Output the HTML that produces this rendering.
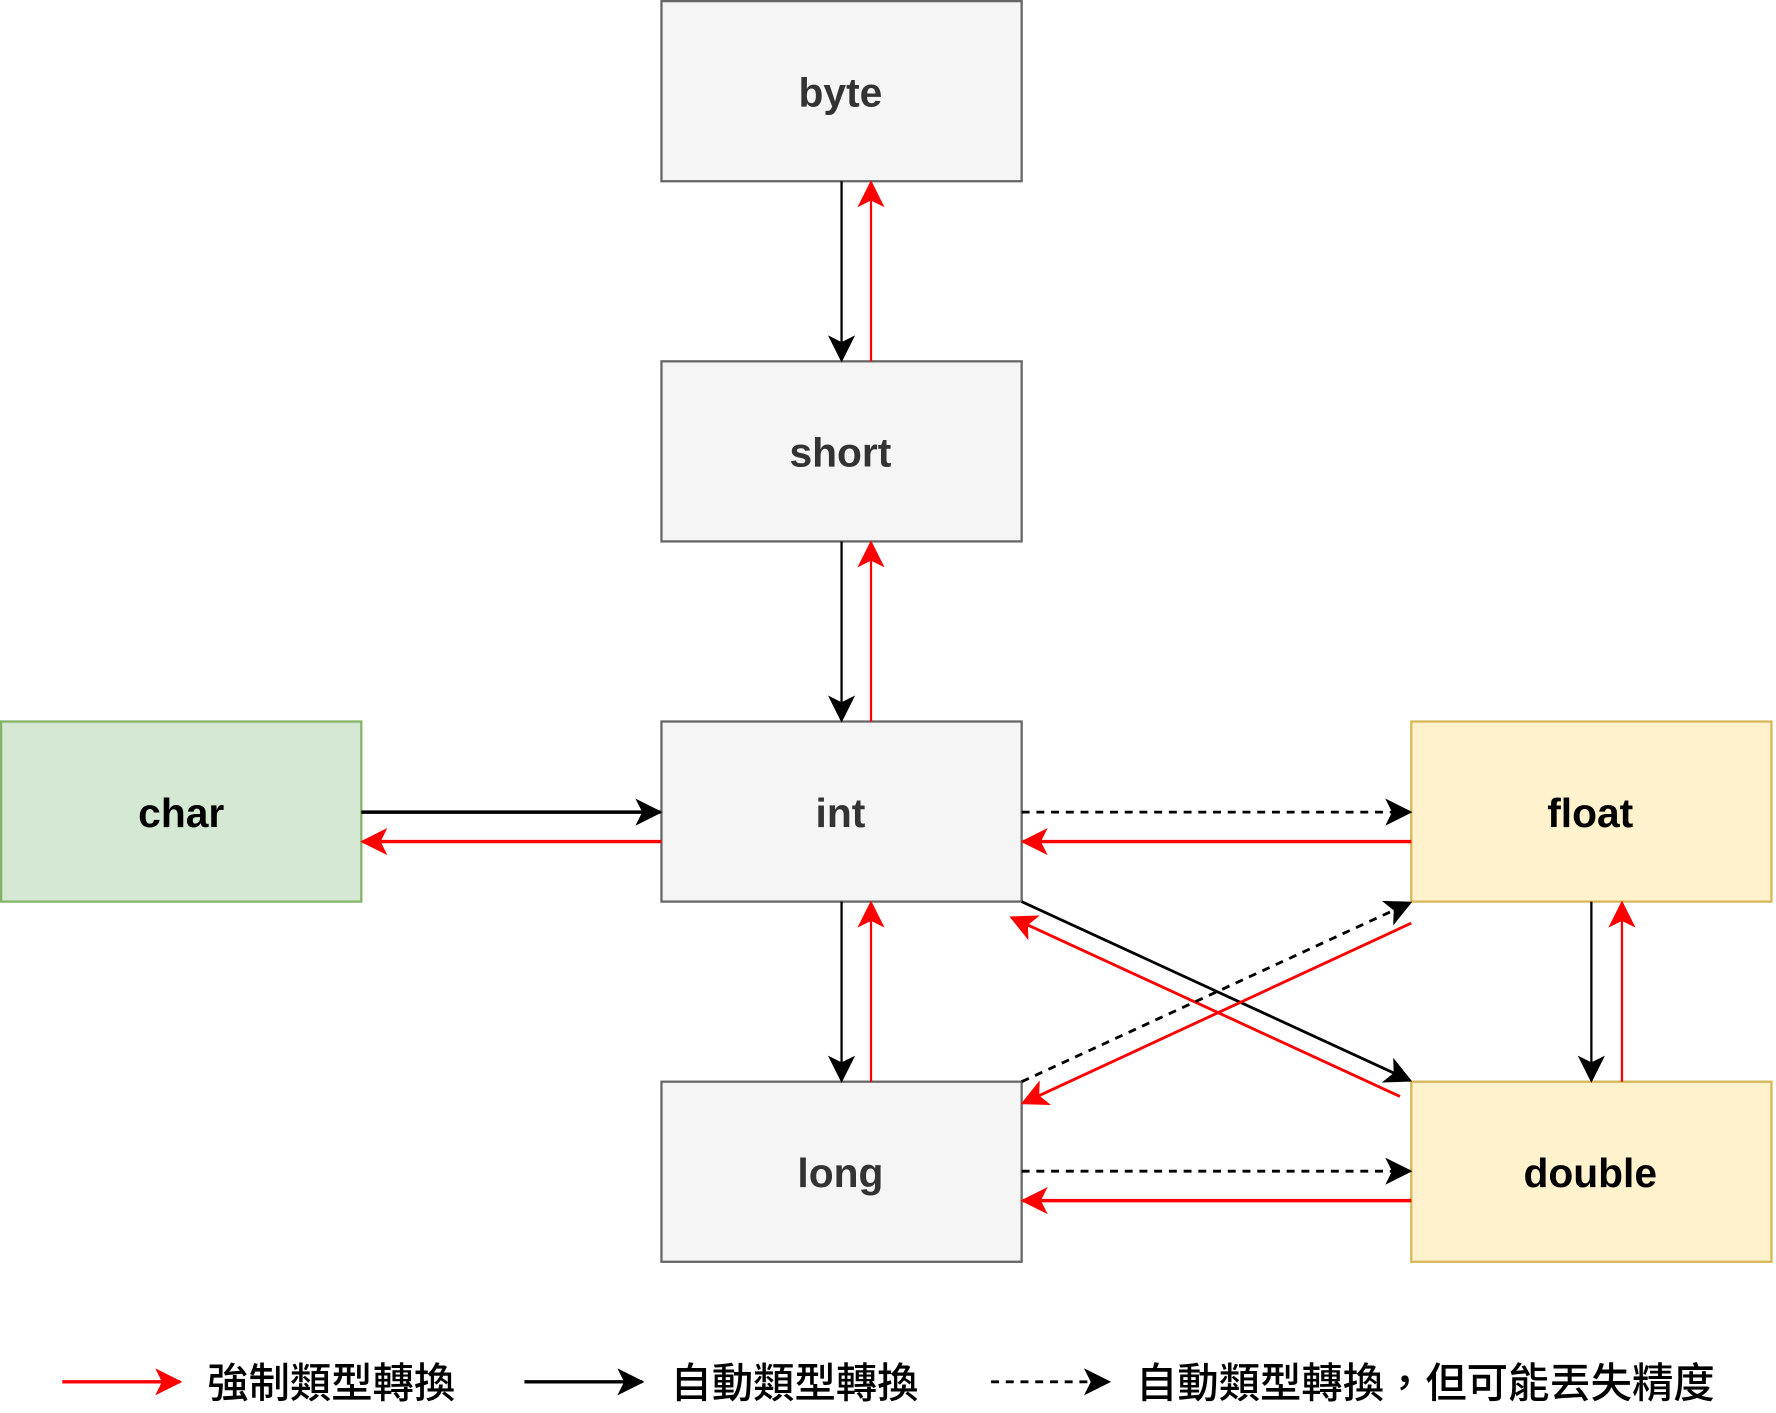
<!DOCTYPE html>
<html><head><meta charset="utf-8"><style>
html,body{margin:0;padding:0;background:#fff;}
svg{display:block;}
</style></head><body>
<svg width="1776" height="1413" viewBox="0 0 1568 1247.5" xmlns="http://www.w3.org/2000/svg">
<defs>
<marker id="abL" markerWidth="24" markerHeight="24" refX="22" refY="12" orient="auto" markerUnits="userSpaceOnUse" viewBox="0 0 24 24"><path d="M0,0 L24,12 L0,24 L6,12 Z" fill="#000"/></marker>
<marker id="arL" markerWidth="24" markerHeight="24" refX="22" refY="12" orient="auto" markerUnits="userSpaceOnUse" viewBox="0 0 24 24"><path d="M0,0 L24,12 L0,24 L6,12 Z" fill="#f00"/></marker>
</defs>
<g stroke-width="2">
<rect x="584" y="1" width="318" height="159" fill="#f5f5f5" stroke="#666"/>
<rect x="584" y="319" width="318" height="159" fill="#f5f5f5" stroke="#666"/>
<rect x="584" y="637" width="318" height="159" fill="#f5f5f5" stroke="#666"/>
<rect x="584" y="955" width="318" height="159" fill="#f5f5f5" stroke="#666"/>
<rect x="1" y="637" width="318" height="159" fill="#d5e8d4" stroke="#82b366"/>
<rect x="1246" y="637" width="318" height="159" fill="#fff2cc" stroke="#d6b656"/>
<rect x="1246" y="955" width="318" height="159" fill="#fff2cc" stroke="#d6b656"/>
</g>
<g font-family="Liberation Sans, sans-serif" font-weight="bold" font-size="36" text-anchor="middle">
<text x="742" y="94" fill="#333">byte</text>
<text x="742" y="412" fill="#333">short</text>
<text x="742" y="730" fill="#333">int</text>
<text x="742" y="1048" fill="#333">long</text>
<text x="160" y="730" fill="#000">char</text>
<text x="1404" y="730" fill="#000">float</text>
<text x="1404" y="1048" fill="#000">double</text>
</g>
<g fill="none" stroke-width="2">
<line x1="743" y1="160" x2="743" y2="318" stroke="#000" marker-end="url(#abL)"/>
<line x1="769" y1="319" x2="769" y2="161" stroke="#f00" marker-end="url(#arL)"/>
<line x1="743" y1="478" x2="743" y2="636" stroke="#000" marker-end="url(#abL)"/>
<line x1="769" y1="637" x2="769" y2="479" stroke="#f00" marker-end="url(#arL)"/>
<line x1="743" y1="796" x2="743" y2="954" stroke="#000" marker-end="url(#abL)"/>
<line x1="769" y1="955" x2="769" y2="797" stroke="#f00" marker-end="url(#arL)"/>
<line x1="319" y1="717" x2="583" y2="717" stroke="#000" stroke-width="3" marker-end="url(#abL)"/>
<line x1="584" y1="743" x2="320" y2="743" stroke="#f00" stroke-width="3" marker-end="url(#arL)"/>
<line x1="902" y1="717" x2="1245" y2="717" stroke="#000" stroke-width="2.5" stroke-dasharray="7,6" marker-end="url(#abL)"/>
<line x1="1246" y1="743" x2="903" y2="743" stroke="#f00" stroke-width="3" marker-end="url(#arL)"/>
<line x1="902" y1="1034" x2="1245" y2="1034" stroke="#000" stroke-width="2.5" stroke-dasharray="7,6" marker-end="url(#abL)"/>
<line x1="1246" y1="1060" x2="903" y2="1060" stroke="#f00" stroke-width="3" marker-end="url(#arL)"/>
<line x1="1405" y1="796" x2="1405" y2="954" stroke="#000" marker-end="url(#abL)"/>
<line x1="1432" y1="955" x2="1432" y2="797" stroke="#f00" marker-end="url(#arL)"/>
<line x1="902" y1="796" x2="1245" y2="954" stroke="#000" stroke-width="2.5" marker-end="url(#abL)"/>
<line x1="1236" y1="968" x2="893" y2="810" stroke="#f00" stroke-width="2.5" marker-end="url(#arL)"/>
<line x1="902" y1="955" x2="1245" y2="797" stroke="#000" stroke-width="2.5" stroke-dasharray="7,6" marker-end="url(#abL)"/>
<line x1="1246" y1="815" x2="903" y2="974" stroke="#f00" stroke-width="2.5" marker-end="url(#arL)"/>
<line x1="55" y1="1220" x2="159" y2="1220" stroke="#f00" stroke-width="3" marker-end="url(#arL)"/>
<line x1="463" y1="1220" x2="567" y2="1220" stroke="#000" stroke-width="3" marker-end="url(#abL)"/>
<line x1="875" y1="1220" x2="979" y2="1220" stroke="#000" stroke-width="2.5" stroke-dasharray="7,6" marker-end="url(#abL)"/>
</g>
<g font-family="Liberation Sans, Noto Sans CJK TC, sans-serif" font-size="36.5" font-weight="500" fill="#000">
<text x="183" y="1234">強制類型轉換</text>
<text x="592" y="1234">自動類型轉換</text>
<text x="1003" y="1234">自動類型轉換，但可能丟失精度</text>
</g>
</svg>
</body></html>
